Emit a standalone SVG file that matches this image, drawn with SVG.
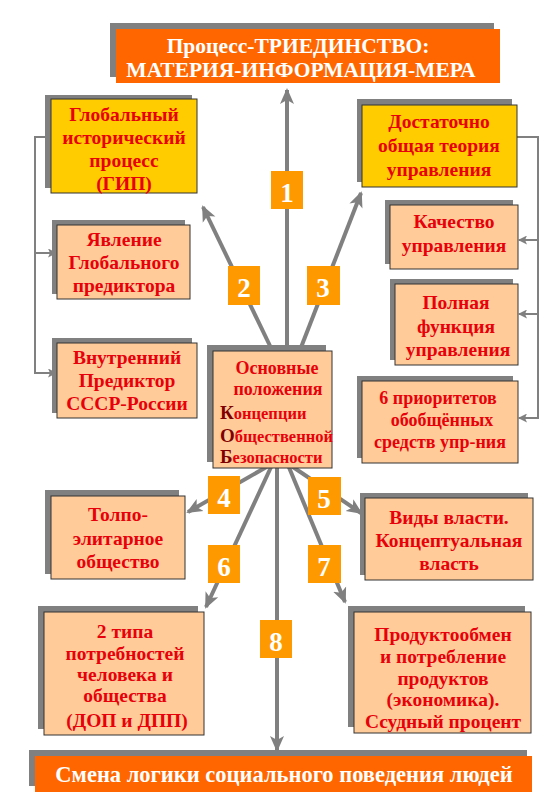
<svg xmlns="http://www.w3.org/2000/svg" width="553" height="800" viewBox="0 0 553 800">
<defs>
<style>
.sh{fill:#808080}
.yb{fill:#FFCC00;stroke:#333;stroke-width:1}
.pb{fill:#FFCC99;stroke:#333;stroke-width:1}
.ob{fill:#FF6600}
.t{font-family:"Liberation Serif","Times New Roman",serif;font-weight:bold;font-size:19.5px;fill:#E8000B;text-anchor:middle}
.ts{font-size:18px}
.l{text-anchor:start;font-size:16.5px}
.wt{font-family:"Liberation Serif","Times New Roman",serif;font-weight:bold;fill:#FFFFFF;text-anchor:middle}
.dk{fill:#800000;font-size:19px}
.big{stroke:#808080;stroke-width:4;fill:none}
.br{stroke:#808080;stroke-width:2;fill:none}
.bd{fill:#FF9900}
.num{font-family:"Liberation Serif","Times New Roman",serif;font-weight:bold;font-size:27px;fill:#FFFFFF;text-anchor:middle}
</style>
<marker id="ah" markerUnits="userSpaceOnUse" markerWidth="16" markerHeight="16" viewBox="0 0 16 16" refX="14" refY="8" orient="auto">
<path d="M0,1 L16,8 L0,15 L4,8 Z" fill="#808080"/>
</marker>
<marker id="sa" markerUnits="userSpaceOnUse" markerWidth="9" markerHeight="9" viewBox="0 0 9 9" refX="8" refY="4.5" orient="auto">
<path d="M0,0 L9,4.5 L0,9 L2,4.5 Z" fill="#808080"/>
</marker>
</defs>
<rect width="553" height="800" fill="#FFFFFF"/>

<g id="connectors">
<path class="big" d="M287,360 L287,90" marker-end="url(#ah)"/>
<path class="big" d="M272,350 L203,207" marker-end="url(#ah)"/>
<path class="big" d="M300,350 L361,193" marker-end="url(#ah)"/>
<path class="big" d="M270,465 L188,512" marker-end="url(#ah)"/>
<path class="big" d="M290,465 L361,513" marker-end="url(#ah)"/>
<path class="big" d="M272,465 L206,607" marker-end="url(#ah)"/>
<path class="big" d="M288,465 L345,602" marker-end="url(#ah)"/>
<path class="big" d="M277,465 L277,750" marker-end="url(#ah)"/>
<path class="br" d="M46,137 H35 V373 H56" marker-end="url(#sa)"/>
<path class="br" d="M35,253 H56" marker-end="url(#sa)"/>
<path class="br" d="M517,137 H538 V418 H519" marker-end="url(#sa)"/>
<path class="br" d="M538,240 H519" marker-end="url(#sa)"/>
<path class="br" d="M538,314 H519" marker-end="url(#sa)"/>
</g>

<g id="badges">
<rect class="bd" x="271" y="171" width="32" height="38"/><text class="num" x="287" y="202">1</text>
<rect class="bd" x="228" y="266" width="32" height="39"/><text class="num" x="244" y="297">2</text>
<rect class="bd" x="307" y="266" width="33" height="39"/><text class="num" x="323" y="297">3</text>
<rect class="bd" x="208" y="476" width="32" height="38"/><text class="num" x="224" y="507">4</text>
<rect class="bd" x="308" y="477" width="33" height="38"/><text class="num" x="324" y="508">5</text>
<rect class="bd" x="208" y="545" width="32" height="38"/><text class="num" x="224" y="576">6</text>
<rect class="bd" x="308" y="545" width="33" height="38"/><text class="num" x="324" y="576">7</text>
<rect class="bd" x="260" y="620" width="32" height="38"/><text class="num" x="276" y="651">8</text>
</g>

<g id="title">
<rect class="sh" x="110" y="23" width="384" height="54"/>
<rect class="ob" x="116" y="29" width="384" height="54"/>
<text class="wt" font-size="21.5" x="298" y="53">Процесс-ТРИЕДИНСТВО:</text>
<text class="wt" font-size="21.5" x="301" y="77">МАТЕРИЯ-ИНФОРМАЦИЯ-МЕРА</text>
</g>

<g id="gip">
<rect class="sh" x="45" y="95" width="147" height="93"/>
<rect class="yb" x="51" y="99" width="146" height="94"/>
<text class="t" x="124" y="121">Глобальный</text>
<text class="t" x="124" y="144">исторический</text>
<text class="t" x="124" y="167">процесс</text>
<text class="t" x="124" y="190">(ГИП)</text>
</g>

<g id="yavlenie">
<rect class="sh" x="52" y="220" width="133" height="74"/>
<rect class="pb" x="57" y="225" width="133" height="74"/>
<text class="t" x="124" y="246">Явление</text>
<text class="t" x="124" y="269">Глобального</text>
<text class="t" x="124" y="292">предиктора</text>
</g>

<g id="vnutrenniy">
<rect class="sh" x="52" y="338" width="140" height="75"/>
<rect class="pb" x="57" y="343" width="140" height="75"/>
<text class="t" x="127" y="364">Внутренний</text>
<text class="t" x="127" y="387">Предиктор</text>
<text class="t" x="127" y="410">СССР-России</text>
</g>

<g id="dostatochno">
<rect class="sh" x="357" y="99" width="155" height="83"/>
<rect class="yb" x="362" y="105" width="155" height="82"/>
<text class="t" x="439" y="128">Достаточно</text>
<text class="t" x="439" y="152">общая теория</text>
<text class="t" x="439" y="176">управления</text>
</g>

<g id="kachestvo">
<rect class="sh" x="385" y="200" width="128" height="64"/>
<rect class="pb" x="390" y="205" width="128" height="64"/>
<text class="t" x="454" y="228">Качество</text>
<text class="t" x="454" y="252">управления</text>
</g>

<g id="polnaya">
<rect class="sh" x="390" y="279" width="123" height="81"/>
<rect class="pb" x="395" y="284" width="123" height="81"/>
<text class="t" x="456" y="309">Полная</text>
<text class="t" x="456" y="333">функция</text>
<text class="t" x="458" y="356">управления</text>
</g>

<g id="prioritety">
<rect class="sh" x="357" y="376" width="156" height="82"/>
<rect class="pb" x="362" y="381" width="156" height="82"/>
<text class="t ts" x="438" y="404">6 приоритетов</text>
<text class="t ts" x="442" y="426">обобщённых</text>
<text class="t ts" x="440" y="448">средств упр-ния</text>
</g>

<g id="center">
<rect class="sh" x="207" y="345" width="119" height="117"/>
<rect class="pb" x="213" y="351" width="119" height="117"/>
<text class="t ts" x="277" y="374">Основные</text>
<text class="t ts" x="278" y="395">положения</text>
<text class="t l" x="220" y="419"><tspan class="dk">К</tspan>онцепции</text>
<text class="t l" x="220" y="442"><tspan class="dk">О</tspan>бщественной</text>
<text class="t l" x="220" y="463"><tspan class="dk">Б</tspan>езопасности</text>
</g>

<g id="tolpo">
<rect class="sh" x="45" y="490" width="134" height="84"/>
<rect class="pb" x="51" y="496" width="134" height="83"/>
<text class="t" x="118" y="521">Толпо-</text>
<text class="t" x="118" y="545">элитарное</text>
<text class="t" x="118" y="568">общество</text>
</g>

<g id="vidy">
<rect class="sh" x="360" y="493" width="168" height="82"/>
<rect class="pb" x="365" y="498" width="168" height="82"/>
<text class="t" x="449" y="524">Виды власти.</text>
<text class="t" x="449" y="547">Концептуальная</text>
<text class="t" x="449" y="570">власть</text>
</g>

<g id="potrebnosti">
<rect class="sh" x="38" y="606" width="160" height="123"/>
<rect class="pb" x="44" y="612" width="160" height="123"/>
<text class="t" x="125" y="638">2 типа</text>
<text class="t" x="125" y="660">потребностей</text>
<text class="t" x="125" y="681">человека и</text>
<text class="t" x="125" y="702">общества</text>
<text class="t" x="127" y="727">(ДОП и ДПП)</text>
</g>

<g id="produktoobmen">
<rect class="sh" x="348" y="606" width="177" height="121"/>
<rect class="pb" x="354" y="612" width="177" height="121"/>
<text class="t" x="443" y="641">Продуктообмен</text>
<text class="t" x="443" y="663">и потребление</text>
<text class="t" x="443" y="685">продуктов</text>
<text class="t" x="443" y="706">(экономика).</text>
<text class="t" x="443" y="728">Ссудный процент</text>
</g>

<g id="smena">
<rect class="sh" x="29" y="750" width="498" height="36"/>
<rect class="ob" x="35" y="756" width="497" height="36"/>
<text class="wt" font-size="22.5" x="284" y="782">Смена логики социального поведения людей</text>
</g>
</svg>
